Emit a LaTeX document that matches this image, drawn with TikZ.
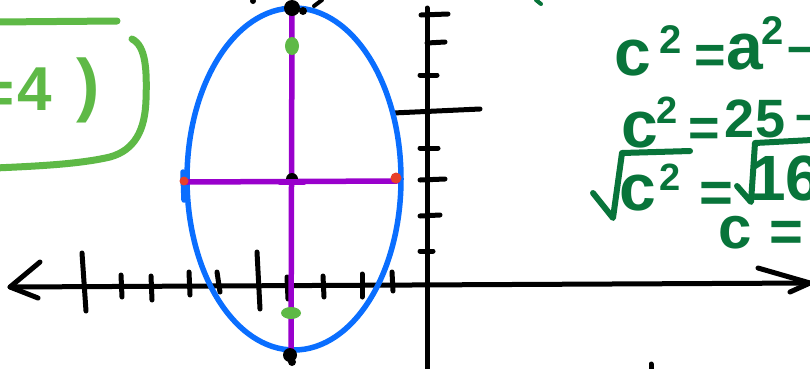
\documentclass[tikz,border=0pt]{standalone}
\usepackage{fontspec}
\setmainfont{Liberation Sans}
\definecolor{dkgreen}{RGB}{8,116,58}
\definecolor{ltgreen}{RGB}{94,185,70}
\definecolor{ellblue}{RGB}{10,110,255}
\definecolor{purp}{RGB}{153,0,204}
\definecolor{dotred}{RGB}{232,64,42}
\begin{document}
\begin{tikzpicture}[x=1pt,y=-1pt,line cap=round,line join=round,
  axisline/.style={draw=black,line width=5pt},
  tickmark/.style={draw=black,line width=5pt},
  glyph/.style={text=dkgreen,inner sep=0pt,anchor=base west,font=\bfseries\fontsize{#1}{#1}\selectfont},
  lhand/.style={text=ltgreen,inner sep=0pt,anchor=base west,font=\bfseries\fontsize{#1}{#1}\selectfont},
  greenstroke/.style={draw=dkgreen,line width=6pt},
  boxstroke/.style={draw=ltgreen,line width=7pt},
  purpline/.style={draw=purp,line width=5.5pt},
  ellstroke/.style={draw=ellblue,line width=5.5pt}]
\clip (0,0) rectangle (810,368);
\fill[white] (0,0) rectangle (810,368);

% ---------- green box at left ----------
\draw[boxstroke] (-5,22) -- (117,21);
\draw[boxstroke] (132,39) .. controls (146,46) and (147,70) .. (146,100)
  .. controls (145,130) and (135,150) .. (110,157)
  .. controls (80,164) and (40,166) .. (-5,168);
\node[lhand=60,anchor=base east] (beq) at (15,113) {=};
\node[lhand=62] (bfour) at (17,110) {4};
\node[lhand=70] (bpar) at (76,108) {)};

% ---------- axes ----------
\coordinate (xl) at (10,287);
\coordinate (xr) at (810,283);
\draw[axisline] (xl) -- (xr);
\draw[axisline] (40,262) -- (xl) -- (38,298);
\draw[axisline] (758,268) -- (xr) -- (790,292);
\coordinate (yt) at (427,8);
\coordinate (yb) at (427,372);
\draw[axisline] (yt) -- (yb);

% x ticks
\draw[tickmark] (82,253) -- (86,311);
\draw[tickmark] (121,275) -- (122,297);
\draw[tickmark] (151,276) -- (152,300);
\draw[tickmark] (189,272) -- (190,295);
\draw[tickmark] (217,272) -- (220,292);
\draw[tickmark] (257,252) -- (260,309);
\draw[tickmark] (287,277) -- (288,299);
\draw[tickmark] (323,276) -- (324,297);
\draw[tickmark] (362,274) -- (362,297);
\draw[tickmark] (392,272) -- (393,291);
% y ticks
\draw[tickmark] (421,15) -- (448,14);
\draw[tickmark] (427,43) -- (445,42);
\draw[tickmark] (420,75) -- (437,75);
\draw[tickmark] (393,113) -- (480,109);
\draw[tickmark] (420,148) -- (438,148);
\draw[tickmark] (420,180) -- (445,179);
\draw[tickmark] (420,216) -- (440,215);
\draw[tickmark] (420,251) -- (433,251);
\draw[tickmark] (651,364) -- (651,372);

% ---------- ellipse ----------
\draw[ellstroke] (294,179) ellipse (107 and 171);
\draw[ellstroke] (183,172) -- (184,200);

% ---------- purple axes of the ellipse ----------
\coordinate (vt) at (292,10);
\coordinate (vb) at (291,360);
\coordinate (hl) at (186,182);
\coordinate (hr) at (397,181);
\draw[purpline] (vt) -- (vb);
\draw[purpline] (hl) -- (hr);

% ---------- dots ----------
\fill[black] (292,8) circle (8);
\fill[black] (303,11) circle (4);
\fill[black] (290,355) circle (7);
\fill[black] (292,362) circle (4);
\fill[black] (292,179) circle (6);
\draw[purpline] (280,182) -- (304,182);
\fill[dotred] (184,181) circle (4.5);
\fill[dotred] (396,178) circle (5.5);
\fill[ltgreen] (292,46) ellipse (7 and 9);
\fill[ltgreen] (291,313) ellipse (10 and 6);
\fill[black] (253,1) circle (3);
\draw[black,line width=4pt] (314,6) -- (322,0);
\draw[greenstroke,line width=4pt] (536,0) -- (541,4);

% ---------- green working at right ----------
% line 1: c^2 = a^2 -
\node[glyph=66] (a1) at (614,75) {c};
\node[glyph=40] (a2) at (659,53) {2};
\node[glyph=54] (a3) at (694,73) {=};
\node[glyph=66] (a4) at (726,69) {a};
\node[glyph=40] (a5) at (761,44) {2};
\node[glyph=54] (a6) at (787,64) {–};
% line 2: c^2 = 25 -
\node[glyph=66] (b1) at (621,147) {c};
\node[glyph=38] (b2) at (656,123) {2};
\node[glyph=54] (b3) at (688,146) {=};
\node[glyph=54] (b4) at (724,137) {2};
\node[glyph=54] (b5) at (755,137) {5};
\node[glyph=54] (b6) at (795,132) {–};
% line 3: sqrt c^2 = sqrt 16
\draw[greenstroke] (593,193) -- (613,218) -- (622,153) -- (690,151);
\node[glyph=66] (c1) at (619,210) {c};
\node[glyph=38] (c2) at (659,190) {2};
\node[glyph=58] (c3) at (699,212) {=};
\draw[greenstroke] (737,186) -- (751,202) -- (755,143) -- (812,140);
\node[glyph=64] (c4) at (750,200) {16};
% line 4: c =
\node[glyph=60] (d1) at (718,248) {c};
\node[glyph=58] (d2) at (769,251) {=};
\end{tikzpicture}
\end{document}
